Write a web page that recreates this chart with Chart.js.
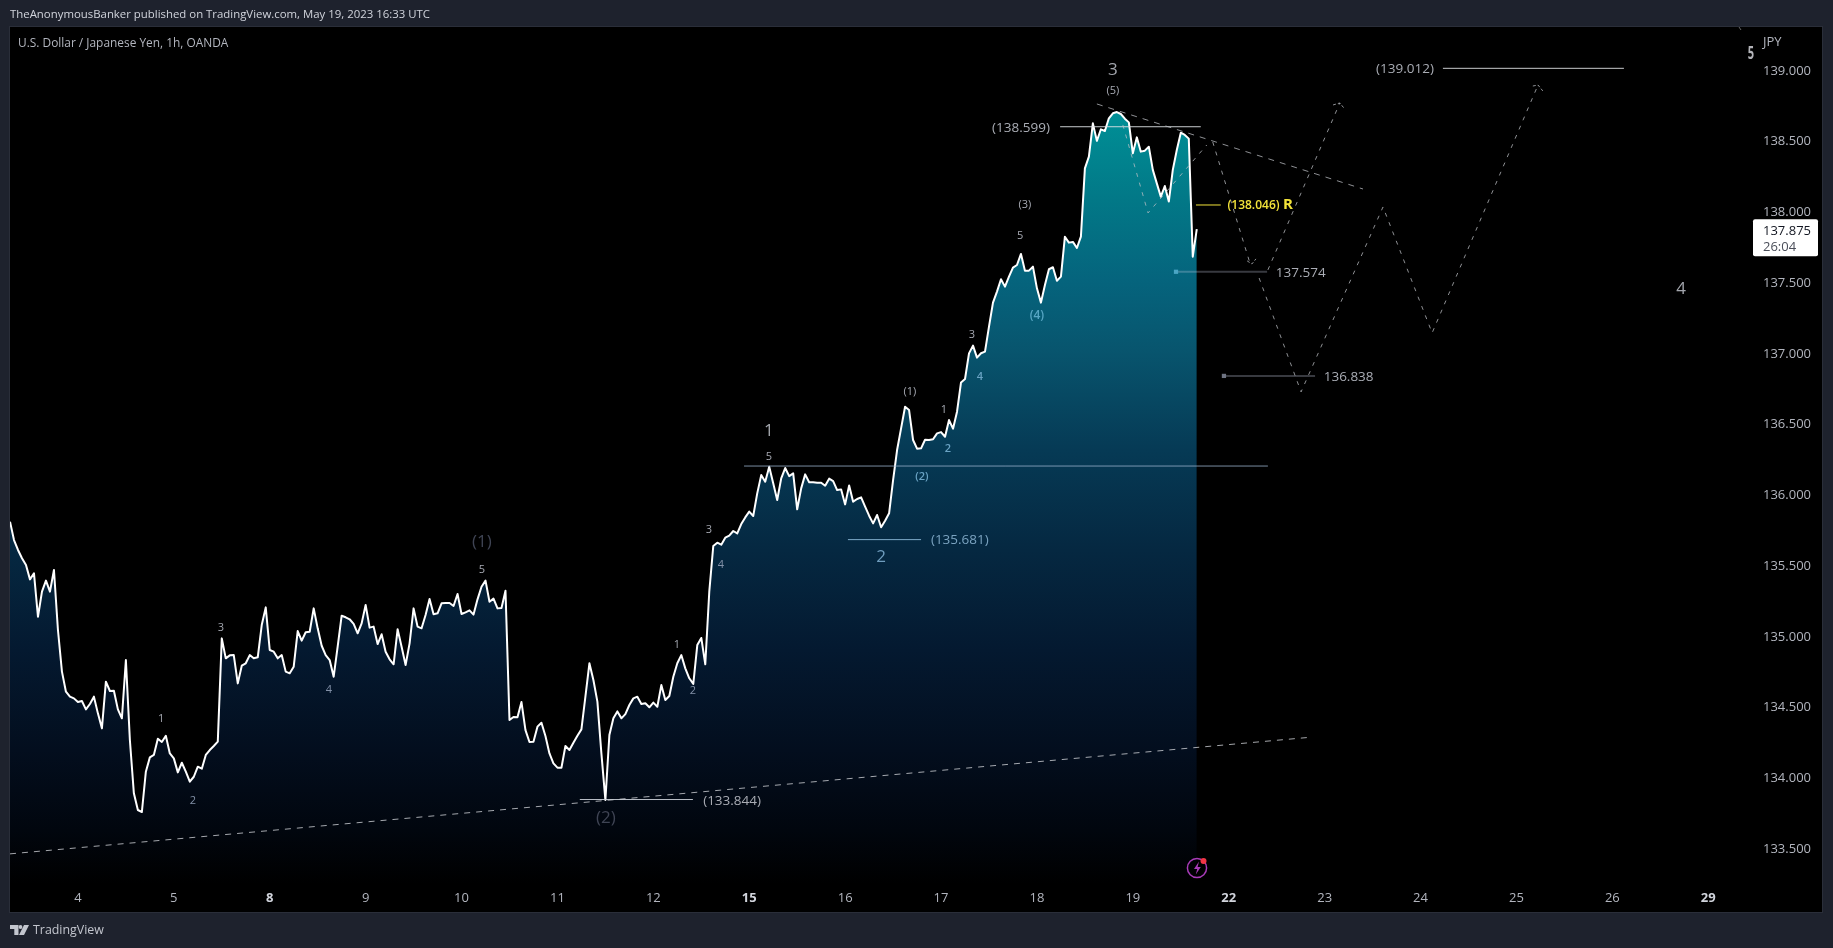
<!DOCTYPE html>
<html><head><meta charset="utf-8">
<script src="https://cdn.jsdelivr.net/npm/chart.js@4"></script>
<style>
html,body{margin:0;padding:0;background:#1e222d;width:1833px;height:948px;overflow:hidden;font-family:"Open Sans",sans-serif}
#pane{position:absolute;left:9px;top:26px;width:1812px;height:885px;background:#000;border:1px solid #2a2e39}
#c{position:absolute;left:0;top:0}
.t{position:absolute;white-space:nowrap}
#hdr{left:10px;top:4px;font-size:11.4px;line-height:20px;color:#d1d4dc}
#sym{left:18px;top:33px;font-size:11.9px;line-height:18px;color:#b2b5be}
#jpy{left:1763px;top:32px;font-size:13px;line-height:18px;color:#b2b5be}
#brand{left:33px;top:920px;font-size:12.4px;line-height:20px;color:#c3c6ce}
svg{position:absolute;left:0;top:0}
</style></head><body>
<div id="pane"></div>
<canvas id="c" width="1833" height="948"></canvas>
<div class="t" id="hdr">TheAnonymousBanker published on TradingView.com, May 19, 2023 16:33 UTC</div>
<div class="t" id="sym">U.S. Dollar / Japanese Yen, 1h, OANDA</div>
<div class="t" id="jpy">JPY</div>
<div class="t" id="brand">TradingView</div>
<svg width="1833" height="948" viewBox="0 0 1833 948">
  <path d="M10 925h8.5v10h-4.2v-6h-4.3z M24 925h5l-5 10h-5z" fill="#c3c6ce"/>
  <circle cx="20.5" cy="927" r="1.9" fill="#c3c6ce"/>
  <circle cx="1197" cy="868" r="9.6" fill="none" stroke="#a83bb8" stroke-width="1.5"/>
  <path d="M1199 861.5l-5 7.5h3.2l-1.4 5.5 5-7.5h-3.2z" fill="#a83bb8"/>
  <circle cx="1203.5" cy="861" r="3" fill="#f23645"/>
  <path d="M1739 27l2 3" stroke="#666" stroke-width="1"/>
</svg>
<script>
// Hourly USD/JPY closes (one value per bar)
const closePrices = [
135.808,135.678,135.608,135.549,135.502,135.400,135.443,135.136,135.313,135.391,135.313,135.466,135.042,134.748,134.606,134.571,134.559,134.533,134.540,134.481,
134.519,134.571,134.453,134.347,134.677,134.611,134.613,134.481,134.418,134.830,134.265,133.888,133.770,133.756,134.041,134.142,134.159,134.274,134.251,134.295,
134.170,134.135,134.036,134.104,134.041,133.970,134.005,134.076,134.062,134.159,134.194,134.222,134.253,134.983,134.842,134.863,134.865,134.665,134.790,134.807,
134.865,134.842,134.849,135.077,135.202,134.901,134.889,134.842,134.865,134.748,134.736,134.783,135.035,134.967,135.026,135.030,135.195,135.054,134.931,134.865,
134.830,134.712,134.924,135.143,135.132,135.118,135.085,135.019,135.089,135.219,135.059,135.066,134.943,135.012,134.889,134.835,134.800,135.047,134.924,134.795,
134.948,135.195,135.066,135.054,135.148,135.261,135.153,135.160,135.231,135.233,135.233,135.212,135.297,135.155,135.167,135.181,135.151,135.259,135.348,135.391,
135.242,135.264,135.195,135.198,135.320,134.406,134.427,134.425,134.533,134.335,134.251,134.253,134.359,134.387,134.293,134.170,134.100,134.069,134.069,134.222,
134.194,134.246,134.295,134.340,134.571,134.807,134.689,134.536,134.170,133.841,134.300,134.418,134.467,134.418,134.448,134.512,134.559,134.571,134.519,134.524,
134.496,134.529,134.500,134.653,134.547,134.576,134.712,134.807,134.865,134.771,134.701,134.661,134.936,134.986,134.800,135.313,135.636,135.659,135.645,135.695,
135.709,135.742,135.725,135.791,135.838,135.879,135.848,136.008,136.137,136.090,136.196,136.079,135.961,136.114,136.187,136.130,136.149,135.895,136.043,136.142,
136.086,136.086,136.083,136.083,136.062,136.112,136.095,136.031,136.036,135.930,136.064,135.949,135.968,135.980,135.914,135.850,135.796,135.855,135.768,135.815,
135.867,136.102,136.314,136.467,136.620,136.597,136.385,136.324,136.326,136.387,136.385,136.390,136.432,136.441,136.408,136.526,136.465,136.585,136.792,136.816,
136.997,137.052,136.967,136.998,137.010,137.186,137.356,137.434,137.521,137.469,137.540,137.603,137.622,137.700,137.582,137.582,137.610,137.457,137.356,137.481,
137.592,137.606,137.511,137.540,137.822,137.780,137.785,137.742,137.822,138.305,138.388,138.623,138.499,138.581,138.569,138.659,138.694,138.703,138.689,138.656,
138.630,138.411,138.524,138.423,138.430,138.458,138.294,138.199,138.105,138.180,138.070,138.294,138.435,138.557,138.541,138.515,137.681,137.875];

const dayLabels = ['4','5','8','9','10','11','12','15','16','17','18','19','22','23','24','25','26','29'];
const dayBars   = [17,41,65,89,113,137,161,185,209,233,257,281,305,329,353,377,401,425];
const boldDays  = ['8','15','22','29'];
const priceTicks = [133.5,134,134.5,135,135.5,136,136.5,137,137.5,138,138.5,139];
const lastPrice = 137.875;
const countdown = '26:04';

// Drawn trend lines: [bar, price] vertices
const supportLine = [[0,133.460],[324.6,134.282]];
const resistLine  = [[272,138.760],[338.6,138.159]];
const pathNear    = [[278.5,138.612],[284.8,137.990],[299.5,138.470]];
const pathDown    = [[301,138.491],[310.3,137.636]];
const pathHook    = [[309.6,137.651],[310.8,137.629],[311.8,137.665]];
const pathUp      = [[314.8,137.587],[332.8,138.767]];
const pathUpTip   = [[331.1,138.753],[332.8,138.767],[333.8,138.732]];
const pathLong    = [[312.6,137.530],[323.1,136.725],[343.6,138.032],[355.9,137.142],[382.4,138.894]];
const pathLongTip = [[381.1,138.887],[382.4,138.894],[383.6,138.852]];

// Horizontal levels: [from bar, to bar, price]
const levelLow    = [142.6,170.9,133.844];
const levelWave1  = [183.7,314.8,136.201];
const levelWave2  = [209.7,228,135.681];
const levelHigh   = [262.8,298,138.599];
const levelR      = [296.8,303,138.046];
const levelSup1   = [291.8,314.6,137.574];
const levelSup2   = [303.8,326.6,136.838];
const levelTarget = [358.6,403.9,139.012];

// Text on the chart: [text, bar, price, style]
const waveLabels = [
['1',37.8,134.421,'s'],['2',45.8,133.841,'sb'],['3',52.8,135.064,'s'],['4',79.8,134.626,'sb'],
['(1)',118.1,135.672,'dim'],['5',118.1,135.474,'s'],['(2)',149.1,133.721,'dim'],
['1',166.9,134.944,'s'],['2',170.9,134.619,'sb'],['3',174.9,135.757,'s'],['4',177.9,135.509,'sb'],
['1',189.9,136.456,'big'],['5',189.9,136.272,'s'],['2',218,135.566,'bigb'],['(2)',228.2,136.131,'st'],
['(1)',225.2,136.732,'s'],['1',233.7,136.605,'s'],['2',234.7,136.329,'st'],['4',242.7,136.838,'st'],
['3',240.7,137.135,'s'],['(3)',254,138.053,'s'],['5',252.8,137.834,'s'],['(4)',257,137.269,'st2'],
['3',276,139.007,'big'],['(5)',276,138.859,'s'],['4',418.2,137.460,'big']];
const priceLabels = [
['(133.844)',180.7,133.841,'p'],['(135.681)',237.7,135.682,'pb'],['(138.599)',253,138.598,'p'],
['(138.046)',311.2,138.046,'y'],['R',319.8,138.053,'yb'],['137.574',323,137.573,'p'],
['136.838',335,136.838,'p'],['(139.012)',349.1,139.014,'p']];
const edgeLabel = ['5',435.7,139.120];

const FF = '"Open Sans",sans-serif';
const textStyles = {
  s:{font:'11px '+FF,color:'#a6a9b2'}, sb:{font:'11px '+FF,color:'#8391a8'},
  st:{font:'600 11px '+FF,color:'#6aa3c4'}, st2:{font:'600 12px '+FF,color:'#57a6c4'},
  dim:{font:'17px '+FF,color:'#3f4454'}, big:{font:'17px '+FF,color:'#a3a6ad'},
  bigb:{font:'17px '+FF,color:'#6f9cbd'}, p:{font:'13.5px '+FF,color:'#a9acb4'},
  pb:{font:'13.5px '+FF,color:'#7ba3c0'}, y:{font:'600 12px '+FF,color:'#f2e33a'},
  yb:{font:'700 15px '+FF,color:'#f2e33a'}
};

const toPts = a => a.map(p => ({x:p[0],y:p[1]}));
const levelPts = l => [{x:l[0],y:l[2]},{x:l[1],y:l[2]}];
const dashed = (a,dash,color) => ({data:toPts(a),borderColor:color||'rgba(190,192,198,0.75)',borderWidth:1,borderDash:dash||[4,6],pointRadius:0,fill:false,order:0});
const solid = (l,color,w,dot) => ({data:levelPts(l),borderColor:color,borderWidth:w,fill:false,order:0,
  pointStyle:'rect',pointBackgroundColor:dot||color,pointBorderWidth:0,
  pointRadius:c => (dot && c.dataIndex===0) ? 3 : 0});

const fillStops = [[115,'rgb(0,143,150)'],[200,'rgb(2,120,135)'],[280,'rgb(5,100,125)'],[350,'rgb(8,85,110)'],
  [450,'rgb(6,58,85)'],[550,'rgb(5,40,65)'],[650,'rgb(4,25,48)'],[750,'rgb(3,14,30)'],[830,'rgb(1,6,14)'],[884,'rgb(0,0,0)']];

function areaFill(ctx){
  const c = ctx.chart, a = c.chartArea;
  if(!a) return 'rgba(0,0,0,0)';
  const g = c.ctx.createLinearGradient(0,115,0,884);
  fillStops.forEach(s => g.addColorStop((s[0]-115)/(884-115),s[1]));
  return g;
}

const isBold = v => boldDays.includes(dayLabels[dayBars.indexOf(v)]);

const overlay = {
  id:'overlay',
  afterDatasetsDraw(chart){
    const {ctx,scales:{x,y}} = chart;
    ctx.save();
    ctx.textAlign='center'; ctx.textBaseline='middle';
    [...waveLabels,...priceLabels].forEach(l=>{
      const st = textStyles[l[3]];
      ctx.font = st.font; ctx.fillStyle = st.color;
      ctx.fillText(l[0],x.getPixelForValue(l[1]),y.getPixelForValue(l[2])+1);
    });
    ctx.translate(x.getPixelForValue(edgeLabel[1]),y.getPixelForValue(edgeLabel[2])+1);
    ctx.scale(0.65,1);
    ctx.font='700 17px '+FF; ctx.fillStyle='#b4b5ba';
    ctx.fillText(edgeLabel[0],0,0);
    ctx.restore();
  },
  afterDraw(chart){
    const {ctx,scales:{y}} = chart;
    const py = y.getPixelForValue(lastPrice);
    ctx.save();
    ctx.fillStyle='#fff';
    ctx.beginPath(); ctx.roundRect(1753,py-10,65,37,2); ctx.fill();
    ctx.textAlign='left'; ctx.textBaseline='middle';
    ctx.font='13px '+FF; ctx.fillStyle='#131722';
    ctx.fillText(lastPrice.toFixed(3),1763,py+2);
    ctx.fillStyle='#4a4e59';
    ctx.fillText(countdown,1763,py+18);
    ctx.restore();
  }
};

new Chart(document.getElementById('c'),{
  type:'line',
  plugins:[overlay],
  data:{datasets:[
    {data:closePrices.map((v,i)=>({x:i,y:v})),borderColor:'#ffffff',borderWidth:2,pointRadius:0,tension:0,
     borderJoinStyle:'round',fill:'start',backgroundColor:areaFill,order:1},
    dashed(supportLine,[6,6],'rgba(205,207,212,0.8)'),dashed(resistLine,[6,6]),dashed(pathNear),dashed(pathDown),dashed(pathHook,[3,2]),
    dashed(pathUp),dashed(pathUpTip,[3,2]),dashed(pathLong),dashed(pathLongTip,[3,2]),
    solid(levelLow,'rgba(205,210,218,0.9)',1),
    solid(levelWave1,'rgba(150,175,200,0.8)',1),
    solid(levelWave2,'rgba(125,170,200,1)',1),
    solid(levelHigh,'rgba(222,226,230,0.9)',1),
    solid(levelR,'#f2e33a',1),
    solid(levelSup1,'rgba(200,210,230,0.28)',2,'#4aa5c4'),
    solid(levelSup2,'rgba(200,210,230,0.28)',2,'#6e7382'),
    solid(levelTarget,'rgba(210,212,215,0.95)',1)
  ]},
  options:{
    responsive:false,animation:false,devicePixelRatio:1,
    layout:{padding:{left:10,top:27,right:11,bottom:36}},
    plugins:{legend:{display:false},tooltip:{enabled:false},title:{display:false}},
    scales:{
      x:{type:'linear',min:0,max:436.7,
        grid:{display:false,drawTicks:false},border:{display:false},
        afterBuildTicks:a=>{a.ticks=dayBars.map(v=>({value:v}));},
        afterFit:a=>{a.height=28;},
        ticks:{autoSkip:false,maxRotation:0,padding:6,
          callback:v=>dayLabels[dayBars.indexOf(v)],
          font:c=>({family:'"Open Sans",sans-serif',size:13,weight:(c.tick&&isBold(c.tick.value))?'bold':'normal'}),
          color:c=>(c.tick&&isBold(c.tick.value))?'#d1d4dc':'#b2b5be'}
      },
      y:{type:'linear',position:'right',min:133.247,max:139.304,
        grid:{display:false,drawTicks:false},border:{display:false},
        afterBuildTicks:a=>{a.ticks=priceTicks.map(v=>({value:v}));},
        afterFit:a=>{a.width=67;},
        ticks:{padding:8,labelOffset:1,color:'#b2b5be',font:{family:'"Open Sans",sans-serif',size:13},
          callback:v=>Number(v).toFixed(3)}
      }
    }
  }
});
</script>
</body></html>
